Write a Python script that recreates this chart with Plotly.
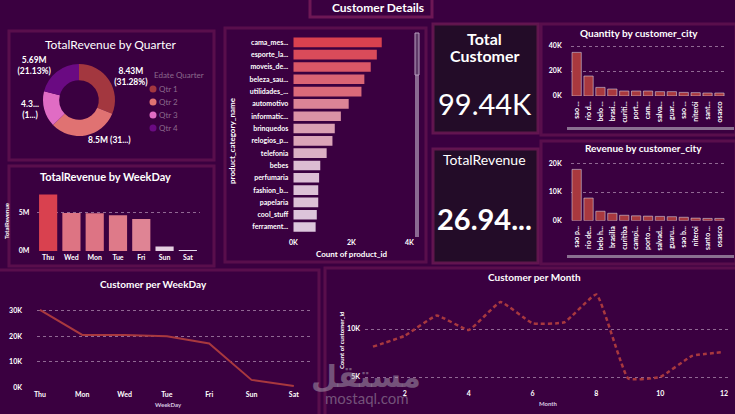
import plotly.graph_objects as go

W, H = 735, 414
BG = "#3a0040"
CARD = "#230c28"
RED = "#a8383e"
FONT = "Lato"

def px(x):
    return x / W

def py(y):
    return 1 - y / H

# ---------------- data ----------------
quarters = ["Qtr 1", "Qtr 2", "Qtr 3", "Qtr 4"]
quarter_revenue = [8.43e6, 8.50e6, 4.32e6, 5.69e6]
quarter_labels = ["8.43M<br>(31.28%)", "8.5M (31...)", "4.3...<br>(1...)", "5.69M<br>(21.13%)"]
quarter_colors = ["#a3373f", "#e07272", "#e06cc4", "#6a0a82"]
legend_title = "Edate Quarter"

weekdays_rev = ["Thu", "Wed", "Mon", "Tue", "Fri", "Sun", "Sat"]
weekday_revenue = [7.40e6, 4.98e6, 4.95e6, 4.70e6, 4.20e6, 0.60e6, 0.11e6]

categories = ["cama_mesa_banho", "esporte_lazer", "moveis_decoracao", "beleza_saude",
              "utilidades_domesticas", "automotivo", "informatica_acessorios", "brinquedos",
              "relogios_presentes", "telefonia", "bebes", "perfumaria", "fashion_bolsas_e_acessorios",
              "papelaria", "cool_stuff", "ferramentas_jardim"]
category_ticks = ["cama_mes...", "esporte_la...", "moveis_de...", "beleza_sau...", "utilidades_...",
                  "automotivo", "informatic...", "brinquedos", "relogios_p...", "telefonia", "bebes",
                  "perfumaria", "fashion_b...", "papelaria", "cool_stuff", "ferrament..."]
category_counts = [3050, 2880, 2670, 2450, 2350, 1910, 1640, 1430, 1350, 1150, 930, 890, 860, 860, 810, 770]

qty_cities = ["sao paulo", "rio de janeiro", "belo horizonte", "brasilia", "curitiba", "porto alegre",
              "campinas", "salvador", "guarulhos", "sao bernardo do campo", "niteroi", "santo andre", "osasco"]
qty_ticks = ["sao ...", "rio d...", "belo ...", "brasi...", "curiti...", "port...", "cam...",
             "salva...", "guar...", "sao ...", "niterói", "sant...", "osasco"]
qty_values = [34900, 16000, 6900, 5600, 4000, 4000, 4000, 3500, 3500, 2900, 2700, 2400, 2400]

rev_cities = ["sao paulo", "rio de janeiro", "belo horizonte", "brasilia", "curitiba", "campinas",
              "porto alegre", "salvador", "guarulhos", "sao bernardo do campo", "niteroi", "santo andre", "osasco"]
rev_ticks = ["sao p...", "rio de...", "belo h...", "brasilia", "curitiba", "campi...", "porto ...",
             "salvad...", "guaru...", "sao b...", "niteroi", "santo ...", "osasco"]
rev_values = [17900, 7900, 3300, 2600, 1900, 1700, 1600, 1500, 1400, 1200, 900, 800, 800]

weekdays_cust = ["Thu", "Mon", "Wed", "Tue", "Fri", "Sun", "Sat"]
weekday_customers = [30300, 20500, 20500, 20000, 17200, 2900, 500]

months = list(range(1, 13))
month_customers = [8160, 9300, 11400, 9900, 12800, 10600, 10700, 13600, 4850, 5000, 7200, 7600]

kpi_customers = "99.44K"
kpi_revenue = "26.94..."

# ---------------- figure ----------------
fig = go.Figure()

tickfont = dict(family=FONT, size=7, color="white", weight="bold")
gridc = "rgba(215,190,215,0.55)"

# Donut
fig.add_trace(go.Pie(
    labels=quarters, values=quarter_revenue, text=quarter_labels, texttemplate="%{text}",
    textposition="outside", hole=0.55, sort=False, direction="clockwise", rotation=0,
    marker=dict(colors=quarter_colors, line=dict(width=0)),
    textfont=dict(family=FONT, size=8.5, color="white", weight="bold"),
    domain=dict(x=[px(43), px(115)], y=[py(136), py(64)]),
    showlegend=False, hoverinfo="label+value+percent",
))

# TotalRevenue by WeekDay
fig.add_trace(go.Bar(
    x=weekdays_rev, y=weekday_revenue, xaxis="x", yaxis="y",
    marker=dict(color=weekday_revenue, colorscale=[[0, "#e6dcee"], [1, "#d9414f"]],
                cmin=0, cmax=max(weekday_revenue), line=dict(width=0)),
    showlegend=False,
))

# Count of product_id by category
fig.add_trace(go.Bar(
    y=categories, x=category_counts, orientation="h", xaxis="x2", yaxis="y2",
    marker=dict(color=category_counts, colorscale=[[0, "#dcc6dc"], [1, "#d9414f"]],
                cmin=min(category_counts), cmax=max(category_counts),
                line=dict(width=0)),
    showlegend=False,
))

# Quantity by city
fig.add_trace(go.Bar(x=qty_cities, y=qty_values, xaxis="x3", yaxis="y3",
                     marker=dict(color=RED), showlegend=False))
# Revenue by city
fig.add_trace(go.Bar(x=rev_cities, y=rev_values, xaxis="x4", yaxis="y4",
                     marker=dict(color=RED), showlegend=False))

# Customer per WeekDay
fig.add_trace(go.Scatter(x=weekdays_cust, y=weekday_customers, xaxis="x5", yaxis="y5",
                         mode="lines", line=dict(color=RED, width=2), showlegend=False))

# Customer per Month
fig.add_trace(go.Scatter(x=months, y=month_customers, xaxis="x6", yaxis="y6",
                         mode="lines", line=dict(color=RED, width=2.5, dash="4px,3px",
                                                 shape="spline", smoothing=0.35),
                         showlegend=False))

def yax(dom_top, dom_bot, rng, tickvals, ticktext, standoff=4, anchor="x"):
    return dict(domain=[py(dom_bot), py(dom_top)], range=rng, tickvals=tickvals, ticktext=ticktext,
                showgrid=True, gridcolor=gridc, griddash="dot", gridwidth=1, zeroline=False,
                tickfont=tickfont, ticklabelstandoff=standoff, anchor=anchor, showline=False,
                automargin=False)

layout = dict(
    width=W, height=H, autosize=False, margin=dict(l=0, r=0, t=0, b=0, pad=0, autoexpand=False),
    paper_bgcolor=BG, plot_bgcolor="rgba(0,0,0,0)",
    bargap=0.22, showlegend=False,
    font=dict(family=FONT, color="white"),
)

# axis 1 : weekday revenue
layout["xaxis"] = dict(domain=[px(36.5), px(199.5)], anchor="y", tickfont=tickfont, showgrid=False,
                       ticklabelstandoff=1, automargin=False)
layout["yaxis"] = yax(190, 251, [0, 8.0e6], [0, 5e6], ["0M", "5M"], standoff=6, anchor="x")
# axis 2 : product
layout["xaxis2"] = dict(domain=[px(293.3), px(409.3)], anchor="y2", range=[0, 4000],
                        tickvals=[0, 2000, 4000], ticktext=["0K", "2K", "4K"], showgrid=False,
                        zeroline=False, tickfont=tickfont, ticklabelstandoff=4, automargin=False)
layout["yaxis2"] = dict(domain=[py(233.2), py(36.2)], anchor="x2", autorange="reversed",
                        tickvals=categories, ticktext=category_ticks, tickfont=tickfont,
                        ticklabelstandoff=4, showgrid=False, automargin=False)
# axis 3 : quantity by city
layout["xaxis3"] = dict(domain=[px(570.7), px(725.4)], anchor="y3", tickvals=qty_cities, ticktext=qty_ticks,
                        tickangle=-90, tickfont=tickfont, showgrid=False, ticklabelstandoff=3,
                        automargin=False)
layout["yaxis3"] = yax(43.5, 96, [0, 42000], [0, 20000, 40000], ["0K", "20K", "40K"], standoff=8, anchor="x3")
# axis 4 : revenue by city
layout["xaxis4"] = dict(domain=[px(570.7), px(725.4)], anchor="y4", tickvals=rev_cities, ticktext=rev_ticks,
                        tickangle=-90, tickfont=tickfont, showgrid=False, ticklabelstandoff=3,
                        automargin=False)
layout["yaxis4"] = yax(160.5, 220.7, [0, 21000], [0, 10000, 20000], ["0K", "10K", "20K"], standoff=8, anchor="x4")
# axis 5 : customers per weekday
layout["xaxis5"] = dict(domain=[px(37), px(312)], anchor="y5", range=[-0.07, 6.43], tickfont=tickfont,
                        showgrid=False, ticklabelstandoff=2, automargin=False)
layout["yaxis5"] = yax(300, 387.3, [0, 34200], [0, 10000, 20000, 30000], ["0K", "10K", "20K", "30K"],
                       standoff=14, anchor="x5")
# axis 6 : customers per month
layout["xaxis6"] = dict(domain=[px(365), px(728)], anchor="y6", range=[0.75, 12.125],
                        tickvals=[2, 4, 6, 8, 10, 12], tickfont=tickfont, showgrid=False, zeroline=False,
                        ticklabelstandoff=3, automargin=False)
layout["yaxis6"] = yax(290, 385, [4170, 14060], [5000, 10000], ["5K", "10K"], standoff=4, anchor="x6")

fig.update_layout(**layout)

# ---------------- panels / shapes ----------------
shapes = []
def panel(x0, y0, x1, y1, fill=BG, line="rgba(150,40,100,0.35)", lw=3):
    shapes.append(dict(type="rect", xref="paper", yref="paper", x0=px(x0), x1=px(x1), y0=py(y1), y1=py(y0),
                       fillcolor=fill, line=dict(color=line, width=lw), layer="below"))

panel(9, 31, 214, 160)
panel(9, 166, 214, 266)
panel(225, 28, 426, 262)
panel(541, 24, 736, 135)
panel(541, 141, 736, 264)
panel(-3, 270, 319, 417)
panel(325, 268, 738, 417)
panel(433, 24, 538, 133, fill=CARD, line="rgba(110,25,85,0.8)", lw=3)
panel(433, 149, 538, 263, fill=CARD, line="rgba(110,25,85,0.8)", lw=3)
panel(310, -3, 432, 17, fill=BG, line="rgba(160,45,105,0.5)", lw=3)

# scrollbars
shapes.append(dict(type="rect", xref="paper", yref="paper", x0=px(415), x1=px(419), y0=py(237), y1=py(33),
                   fillcolor="#8a6a92", line=dict(width=0), layer="above"))
shapes.append(dict(type="rect", xref="paper", yref="paper", x0=px(415), x1=px(419), y0=py(75), y1=py(33),
                   fillcolor="#5e3a68", line=dict(color="#b8a0c0", width=1), layer="above"))
for yy in (127, 255):
    shapes.append(dict(type="rect", xref="paper", yref="paper", x0=px(567), x1=px(734), y0=py(yy + 3),
                       y1=py(yy), fillcolor="#8a7090", line=dict(width=0), layer="above"))

# donut legend markers
for i, c in enumerate(quarter_colors):
    cy = 89 + 13 * i
    shapes.append(dict(type="circle", xref="paper", yref="paper", x0=px(149.5), x1=px(156.5),
                       y0=py(cy + 3.5), y1=py(cy - 3.5), fillcolor=c, line=dict(width=0), layer="above"))
fig.update_layout(shapes=shapes)

# ---------------- text ----------------
ann = []
def text(x, y, s, size, bold=True, angle=0, color="white", xanchor="center", family=FONT):
    ann.append(dict(x=px(x), y=py(y), xref="paper", yref="paper", text=s, showarrow=False,
                    xanchor=xanchor, yanchor="middle", textangle=angle,
                    font=dict(family=family, size=size, color=color, weight="bold" if bold else "normal")))

text(378, 8, "Customer Details", 12)
text(110, 44, "TotalRevenue by Quarter", 12, bold=False)
text(105, 176, "TotalRevenue by WeekDay", 11)
text(639, 33, "Quantity by customer_city", 10)
text(643, 148, "Revenue by customer_city", 10)
text(153, 284, "Customer per WeekDay", 10)
text(534, 277, "Customer per Month", 10)

# donut legend text
LEG = "#8c6a8c"
text(152, 75, legend_title, 8, bold=False, color=LEG, xanchor="left")
for i, q in enumerate(quarters):
    text(157, 89 + 13 * i, q, 8, bold=False, color=LEG, xanchor="left")

text(6, 221, "TotalRevenue", 6, angle=-90)
text(232, 140, "product_category_name", 8, angle=-90)
text(352, 254, "Count of product_id", 8)
text(168, 404, "WeekDay", 6, color="#d8c8e0")
text(548, 403, "Month", 6, color="#d8c8e0")
text(341, 340, "Count of customer_id", 6, angle=-90)

# KPI cards
text(485, 39, "Total", 16)
text(485, 56, "Customer", 16)
text(485, 103, kpi_customers, 29, bold=False)
text(485, 160, "TotalRevenue", 14, bold=False)
text(485, 218, kpi_revenue, 29)

# watermark
text(366, 376, "مستقل", 30, color="rgba(175,165,180,0.5)", family="DejaVu Sans")
text(367, 398, "mostaql.com", 15, bold=False, color="rgba(175,165,180,0.5)")

fig.update_layout(annotations=ann)

fig.write_html("out.html")
